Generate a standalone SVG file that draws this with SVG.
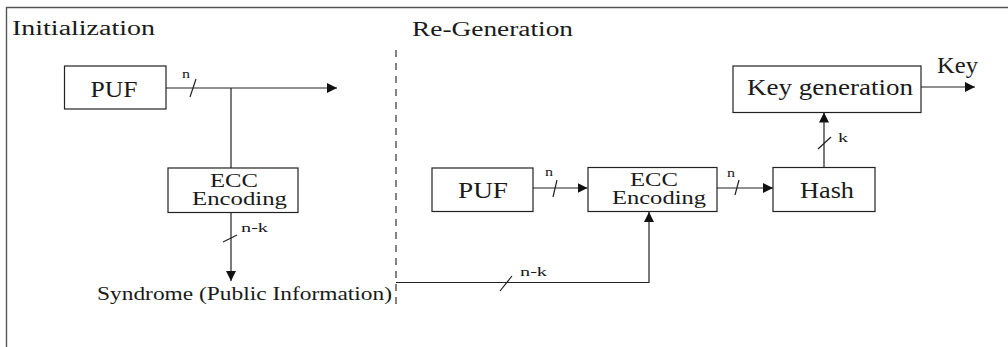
<svg xmlns="http://www.w3.org/2000/svg" width="1008" height="347" viewBox="0 0 1008 347">
  <defs>
    <style>
      text { font-family: 'Liberation Serif', 'DejaVu Serif', serif; fill: #1a1a1a; }
      .box { fill: #ffffff; stroke: #222222; stroke-width: 1.2; }
      .wire { fill: none; stroke: #222222; stroke-width: 1.2; }
      .frame { fill: none; stroke: #555555; stroke-width: 1.4; }
      .sep { fill: none; stroke: #333333; stroke-width: 1.2; stroke-dasharray: 7 6; }
      .title { font-size: 20px; }
      .lbl { font-size: 22.5px; }
      .ecc { font-size: 18px; }
      .bus { font-size: 13.5px; }
      .note { font-size: 19px; }
    </style>
    <marker id="arrow" markerUnits="userSpaceOnUse" markerWidth="11" markerHeight="11" refX="10" refY="5" orient="auto">
      <path d="M0,0 L10,5 L0,10 Z" fill="#111111"/>
    </marker>
  </defs>

  <rect width="1008" height="347" fill="#ffffff"/>

  <!-- outer frame (top and left edges) -->
  <path class="frame" d="M6.5,347 V7.5 H1008"/>

  <!-- section titles -->
  <text class="title" x="12" y="35" textLength="143" lengthAdjust="spacingAndGlyphs">Initialization</text>
  <text class="title" x="412" y="35.5" textLength="161" lengthAdjust="spacingAndGlyphs">Re-Generation</text>

  <!-- separator between phases -->
  <path class="sep" d="M396,50 V308"/>

  <!-- connectors -->
  <g id="connectors">
    <path class="wire" d="M166,88 H337" marker-end="url(#arrow)"/>
    <path class="wire" d="M231,88 V168"/>
    <path class="wire" d="M231,213 V281" marker-end="url(#arrow)"/>
    <path class="wire" d="M396,282.5 H649 V212" marker-end="url(#arrow)"/>
    <path class="wire" d="M533,188 H587.5" marker-end="url(#arrow)"/>
    <path class="wire" d="M717,188 H773" marker-end="url(#arrow)"/>
    <path class="wire" d="M824,168 V112.5" marker-end="url(#arrow)"/>
    <path class="wire" d="M921,87 H975" marker-end="url(#arrow)"/>

    <!-- bus-width slashes -->
    <path class="wire" d="M190,97 L196,79"/>
    <path class="wire" d="M223,242 L237,235"/>
    <path class="wire" d="M500,291 L512,276"/>
    <path class="wire" d="M553,197 L557,180"/>
    <path class="wire" d="M735,195 L739,180"/>
    <path class="wire" d="M818,149 L831,137"/>

    <!-- bus-width labels -->
    <text class="bus" x="182" y="78" textLength="8" lengthAdjust="spacingAndGlyphs">n</text>
    <text class="bus" x="241" y="232" textLength="27" lengthAdjust="spacingAndGlyphs">n-k</text>
    <text class="bus" x="520" y="276" textLength="27" lengthAdjust="spacingAndGlyphs">n-k</text>
    <text class="bus" x="545" y="176" textLength="8" lengthAdjust="spacingAndGlyphs">n</text>
    <text class="bus" x="727" y="177" textLength="8" lengthAdjust="spacingAndGlyphs">n</text>
    <text class="bus" x="838" y="142" textLength="10" lengthAdjust="spacingAndGlyphs">k</text>
  </g>

  <!-- initialization phase -->
  <g id="puf-init">
    <rect class="box" x="64.5" y="66" width="101.5" height="43"/>
    <text class="lbl" x="90.5" y="96.5" textLength="47" lengthAdjust="spacingAndGlyphs">PUF</text>
  </g>

  <g id="ecc-init">
    <rect class="box" x="168" y="168" width="130" height="44.5"/>
    <text class="ecc" x="210" y="186.5" textLength="48" lengthAdjust="spacingAndGlyphs">ECC</text>
    <text class="ecc" x="192" y="204.5" textLength="95" lengthAdjust="spacingAndGlyphs">Encoding</text>
  </g>

  <g id="syndrome">
    <text class="note" x="97" y="300" textLength="295" lengthAdjust="spacingAndGlyphs">Syndrome (Public Information)</text>
  </g>

  <!-- re-generation phase -->
  <g id="puf-regen">
    <rect class="box" x="432" y="168" width="101" height="43.5"/>
    <text class="lbl" x="458" y="198" textLength="50" lengthAdjust="spacingAndGlyphs">PUF</text>
  </g>

  <g id="ecc-regen">
    <rect class="box" x="588" y="167.5" width="129" height="44"/>
    <text class="ecc" x="630" y="185.5" textLength="48" lengthAdjust="spacingAndGlyphs">ECC</text>
    <text class="ecc" x="612" y="203.5" textLength="94" lengthAdjust="spacingAndGlyphs">Encoding</text>
  </g>

  <g id="hash">
    <rect class="box" x="773" y="167.5" width="102" height="44"/>
    <text class="lbl" x="800" y="198" textLength="54" lengthAdjust="spacingAndGlyphs">Hash</text>
  </g>

  <g id="keygen">
    <rect class="box" x="733" y="66" width="188" height="46.5"/>
    <text class="lbl" x="747" y="95" textLength="166" lengthAdjust="spacingAndGlyphs">Key generation</text>
  </g>

  <g id="key-out">
    <text class="lbl" x="937" y="73" textLength="41" lengthAdjust="spacingAndGlyphs">Key</text>
  </g>
</svg>
